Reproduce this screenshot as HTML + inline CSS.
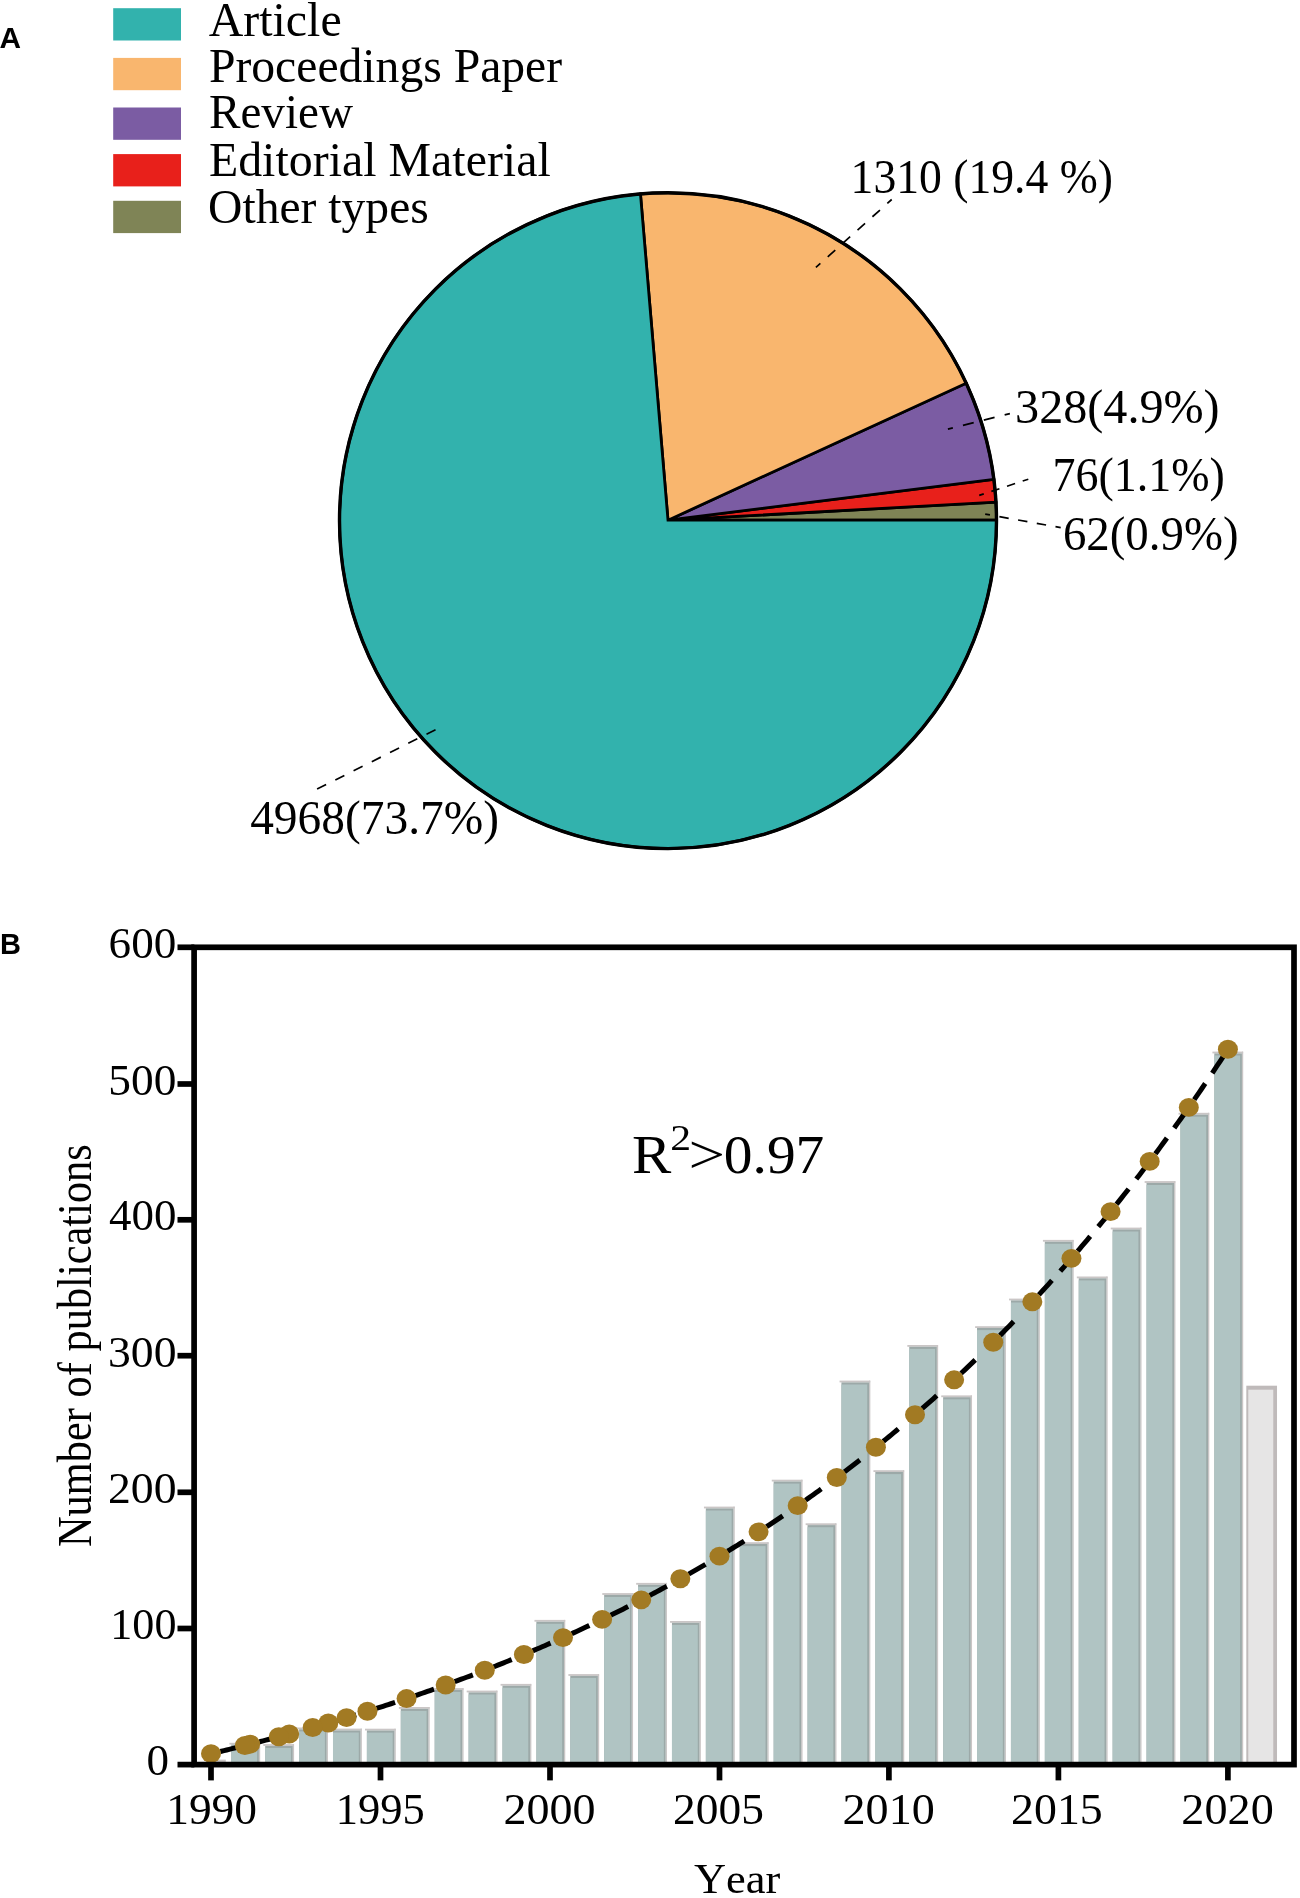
<!DOCTYPE html>
<html><head><meta charset="utf-8"><style>
html,body{margin:0;padding:0;background:#fff;}
body{width:1300px;height:1898px;overflow:hidden;}
svg{display:block;}
text{font-kerning:none;}
svg{will-change:transform;}
.s{font-family:"Liberation Serif",serif;fill:#000;}
.b{font-family:"Liberation Sans",sans-serif;font-weight:bold;fill:#000;}
</style></head><body>
<svg width="1300" height="1898" viewBox="0 0 1300 1898">
<text x="-0.54" y="48.20" class="b" font-size="30" textLength="21.53" lengthAdjust="spacingAndGlyphs">A</text>
<rect x="113.2" y="8.2" width="67.8" height="32.3" fill="#32b2ad"/>
<rect x="113.2" y="57.9" width="67.8" height="32.3" fill="#f9b66e"/>
<rect x="113.2" y="107.5" width="67.8" height="32.3" fill="#7b5ca3"/>
<rect x="113.2" y="154.1" width="67.8" height="32.3" fill="#e8201b"/>
<rect x="113.2" y="200.8" width="67.8" height="32.3" fill="#7f8456"/>
<text x="208.73" y="35.80" class="s" font-size="48.5" textLength="132.93" lengthAdjust="spacingAndGlyphs">Article</text>
<text x="208.93" y="82.00" class="s" font-size="48.5" textLength="353.19" lengthAdjust="spacingAndGlyphs">Proceedings Paper</text>
<text x="208.94" y="128.40" class="s" font-size="48.5" textLength="144.07" lengthAdjust="spacingAndGlyphs">Review</text>
<text x="208.92" y="175.60" class="s" font-size="48.5" textLength="341.84" lengthAdjust="spacingAndGlyphs">Editorial Material</text>
<text x="208.05" y="222.90" class="s" font-size="48.5" textLength="220.77" lengthAdjust="spacingAndGlyphs">Other types</text>
<path d="M668,520.2 L996.50,520.13 A328.5,327.9 0 0 0 995.97,502.11 Z" fill="#7f8456" stroke="#000" stroke-width="2.8" stroke-linejoin="miter"/>
<path d="M668,520.2 L995.97,502.11 A328.5,327.9 0 0 0 993.87,479.32 Z" fill="#e8201b" stroke="#000" stroke-width="2.8" stroke-linejoin="miter"/>
<path d="M668,520.2 L993.87,479.32 A328.5,327.9 0 0 0 966.20,383.16 Z" fill="#7b5ca3" stroke="#000" stroke-width="2.8" stroke-linejoin="miter"/>
<path d="M668,520.2 L966.20,383.16 A328.5,327.9 0 0 0 640.45,193.95 Z" fill="#f9b66e" stroke="#000" stroke-width="2.8" stroke-linejoin="miter"/>
<path d="M668,520.2 L640.45,193.95 A328.5,327.9 0 1 0 996.50,520.13 Z" fill="#32b2ad" stroke="#000" stroke-width="2.8" stroke-linejoin="miter"/>
<ellipse cx="668" cy="520.7" rx="328.5" ry="327.9" fill="none" stroke="#000" stroke-width="3.4"/>
<line x1="815.9" y1="267.4" x2="891.7" y2="199.5" stroke="#000" stroke-width="1.7" stroke-dasharray="10.1 9.9" stroke-dashoffset="4.1"/>
<line x1="947.9" y1="429.1" x2="1009.9" y2="413.6" stroke="#000" stroke-width="1.7" stroke-dasharray="11.1 10.4" stroke-dashoffset="6.0"/>
<line x1="979.2" y1="495.4" x2="1028.3" y2="479.2" stroke="#000" stroke-width="1.7" stroke-dasharray="8.5 8.0" stroke-dashoffset="3.7"/>
<line x1="985.2" y1="514.1" x2="1060.7" y2="527.6" stroke="#000" stroke-width="1.7" stroke-dasharray="9.45 9.55" stroke-dashoffset="4.6"/>
<line x1="317.1" y1="789.1" x2="435.9" y2="729.5" stroke="#000" stroke-width="1.7" stroke-dasharray="10.1 10.3" stroke-dashoffset="0"/>
<text x="850.59" y="193.30" class="s" font-size="48.3" textLength="262.42" lengthAdjust="spacingAndGlyphs">1310 (19.4 %)</text>
<text x="1015.10" y="423.00" class="s" font-size="48.3" textLength="204.52" lengthAdjust="spacingAndGlyphs">328(4.9%)</text>
<text x="1052.47" y="490.80" class="s" font-size="48.3" textLength="172.45" lengthAdjust="spacingAndGlyphs">76(1.1%)</text>
<text x="1062.89" y="549.80" class="s" font-size="48.3" textLength="175.67" lengthAdjust="spacingAndGlyphs">62(0.9%)</text>
<text x="250.17" y="833.80" class="s" font-size="48.3" textLength="248.91" lengthAdjust="spacingAndGlyphs">4968(73.7%)</text>
<text x="0.06" y="953.80" class="b" font-size="30" textLength="20.96" lengthAdjust="spacingAndGlyphs">B</text>
<rect x="214.00" y="1759.60" width="11.8" height="5.00" fill="#cac6c6"/>
<rect x="229.40" y="1742.80" width="30.7" height="1.8" fill="#cac6c6"/>
<rect x="258.90" y="1742.80" width="1.3" height="21.80" fill="#cac6c6"/>
<rect x="231.30" y="1744.60" width="27.6" height="20.00" fill="#9ca9a8"/>
<rect x="231.30" y="1746.70" width="25.8" height="17.90" fill="#b0c4c3"/>
<rect x="263.29" y="1744.10" width="30.7" height="1.8" fill="#cac6c6"/>
<rect x="292.79" y="1744.10" width="1.3" height="20.50" fill="#cac6c6"/>
<rect x="265.19" y="1745.90" width="27.6" height="18.70" fill="#9ca9a8"/>
<rect x="265.19" y="1748.00" width="25.8" height="16.60" fill="#b0c4c3"/>
<rect x="297.19" y="1727.50" width="30.7" height="1.8" fill="#cac6c6"/>
<rect x="326.69" y="1727.50" width="1.3" height="37.10" fill="#cac6c6"/>
<rect x="299.09" y="1729.30" width="27.6" height="35.30" fill="#9ca9a8"/>
<rect x="299.09" y="1731.40" width="25.8" height="33.20" fill="#b0c4c3"/>
<rect x="331.09" y="1728.60" width="30.7" height="1.8" fill="#cac6c6"/>
<rect x="360.59" y="1728.60" width="1.3" height="36.00" fill="#cac6c6"/>
<rect x="332.99" y="1730.40" width="27.6" height="34.20" fill="#9ca9a8"/>
<rect x="332.99" y="1732.50" width="25.8" height="32.10" fill="#b0c4c3"/>
<rect x="364.99" y="1728.70" width="30.7" height="1.8" fill="#cac6c6"/>
<rect x="394.49" y="1728.70" width="1.3" height="35.90" fill="#cac6c6"/>
<rect x="366.88" y="1730.50" width="27.6" height="34.10" fill="#9ca9a8"/>
<rect x="366.88" y="1732.60" width="25.8" height="32.00" fill="#b0c4c3"/>
<rect x="398.88" y="1707.00" width="30.7" height="1.8" fill="#cac6c6"/>
<rect x="428.38" y="1707.00" width="1.3" height="57.60" fill="#cac6c6"/>
<rect x="400.78" y="1708.80" width="27.6" height="55.80" fill="#9ca9a8"/>
<rect x="400.78" y="1710.90" width="25.8" height="53.70" fill="#b0c4c3"/>
<rect x="432.78" y="1688.10" width="30.7" height="1.8" fill="#cac6c6"/>
<rect x="462.28" y="1688.10" width="1.3" height="76.50" fill="#cac6c6"/>
<rect x="434.68" y="1689.90" width="27.6" height="74.70" fill="#9ca9a8"/>
<rect x="434.68" y="1692.00" width="25.8" height="72.60" fill="#b0c4c3"/>
<rect x="466.68" y="1690.60" width="30.7" height="1.8" fill="#cac6c6"/>
<rect x="496.18" y="1690.60" width="1.3" height="74.00" fill="#cac6c6"/>
<rect x="468.58" y="1692.40" width="27.6" height="72.20" fill="#9ca9a8"/>
<rect x="468.58" y="1694.50" width="25.8" height="70.10" fill="#b0c4c3"/>
<rect x="500.57" y="1683.90" width="30.7" height="1.8" fill="#cac6c6"/>
<rect x="530.07" y="1683.90" width="1.3" height="80.70" fill="#cac6c6"/>
<rect x="502.47" y="1685.70" width="27.6" height="78.90" fill="#9ca9a8"/>
<rect x="502.47" y="1687.80" width="25.8" height="76.80" fill="#b0c4c3"/>
<rect x="534.47" y="1619.90" width="30.7" height="1.8" fill="#cac6c6"/>
<rect x="563.97" y="1619.90" width="1.3" height="144.70" fill="#cac6c6"/>
<rect x="536.37" y="1621.70" width="27.6" height="142.90" fill="#9ca9a8"/>
<rect x="536.37" y="1623.80" width="25.8" height="140.80" fill="#b0c4c3"/>
<rect x="568.37" y="1674.10" width="30.7" height="1.8" fill="#cac6c6"/>
<rect x="597.87" y="1674.10" width="1.3" height="90.50" fill="#cac6c6"/>
<rect x="570.27" y="1675.90" width="27.6" height="88.70" fill="#9ca9a8"/>
<rect x="570.27" y="1678.00" width="25.8" height="86.60" fill="#b0c4c3"/>
<rect x="602.26" y="1593.10" width="30.7" height="1.8" fill="#cac6c6"/>
<rect x="631.76" y="1593.10" width="1.3" height="171.50" fill="#cac6c6"/>
<rect x="604.16" y="1594.90" width="27.6" height="169.70" fill="#9ca9a8"/>
<rect x="604.16" y="1597.00" width="25.8" height="167.60" fill="#b0c4c3"/>
<rect x="636.16" y="1582.90" width="30.7" height="1.8" fill="#cac6c6"/>
<rect x="665.66" y="1582.90" width="1.3" height="181.70" fill="#cac6c6"/>
<rect x="638.06" y="1584.70" width="27.6" height="179.90" fill="#9ca9a8"/>
<rect x="638.06" y="1586.80" width="25.8" height="177.80" fill="#b0c4c3"/>
<rect x="670.06" y="1621.00" width="30.7" height="1.8" fill="#cac6c6"/>
<rect x="699.56" y="1621.00" width="1.3" height="143.60" fill="#cac6c6"/>
<rect x="671.96" y="1622.80" width="27.6" height="141.80" fill="#9ca9a8"/>
<rect x="671.96" y="1624.90" width="25.8" height="139.70" fill="#b0c4c3"/>
<rect x="703.95" y="1506.60" width="30.7" height="1.8" fill="#cac6c6"/>
<rect x="733.45" y="1506.60" width="1.3" height="258.00" fill="#cac6c6"/>
<rect x="705.85" y="1508.40" width="27.6" height="256.20" fill="#9ca9a8"/>
<rect x="705.85" y="1510.50" width="25.8" height="254.10" fill="#b0c4c3"/>
<rect x="737.85" y="1542.20" width="30.7" height="1.8" fill="#cac6c6"/>
<rect x="767.35" y="1542.20" width="1.3" height="222.40" fill="#cac6c6"/>
<rect x="739.75" y="1544.00" width="27.6" height="220.60" fill="#9ca9a8"/>
<rect x="739.75" y="1546.10" width="25.8" height="218.50" fill="#b0c4c3"/>
<rect x="771.75" y="1479.70" width="30.7" height="1.8" fill="#cac6c6"/>
<rect x="801.25" y="1479.70" width="1.3" height="284.90" fill="#cac6c6"/>
<rect x="773.65" y="1481.50" width="27.6" height="283.10" fill="#9ca9a8"/>
<rect x="773.65" y="1483.60" width="25.8" height="281.00" fill="#b0c4c3"/>
<rect x="805.65" y="1523.30" width="30.7" height="1.8" fill="#cac6c6"/>
<rect x="835.15" y="1523.30" width="1.3" height="241.30" fill="#cac6c6"/>
<rect x="807.55" y="1525.10" width="27.6" height="239.50" fill="#9ca9a8"/>
<rect x="807.55" y="1527.20" width="25.8" height="237.40" fill="#b0c4c3"/>
<rect x="839.54" y="1380.60" width="30.7" height="1.8" fill="#cac6c6"/>
<rect x="869.04" y="1380.60" width="1.3" height="384.00" fill="#cac6c6"/>
<rect x="841.44" y="1382.40" width="27.6" height="382.20" fill="#9ca9a8"/>
<rect x="841.44" y="1384.50" width="25.8" height="380.10" fill="#b0c4c3"/>
<rect x="873.44" y="1470.20" width="30.7" height="1.8" fill="#cac6c6"/>
<rect x="902.94" y="1470.20" width="1.3" height="294.40" fill="#cac6c6"/>
<rect x="875.34" y="1472.00" width="27.6" height="292.60" fill="#9ca9a8"/>
<rect x="875.34" y="1474.10" width="25.8" height="290.50" fill="#b0c4c3"/>
<rect x="907.34" y="1345.00" width="30.7" height="1.8" fill="#cac6c6"/>
<rect x="936.84" y="1345.00" width="1.3" height="419.60" fill="#cac6c6"/>
<rect x="909.24" y="1346.80" width="27.6" height="417.80" fill="#9ca9a8"/>
<rect x="909.24" y="1348.90" width="25.8" height="415.70" fill="#b0c4c3"/>
<rect x="941.23" y="1395.40" width="30.7" height="1.8" fill="#cac6c6"/>
<rect x="970.73" y="1395.40" width="1.3" height="369.20" fill="#cac6c6"/>
<rect x="943.13" y="1397.20" width="27.6" height="367.40" fill="#9ca9a8"/>
<rect x="943.13" y="1399.30" width="25.8" height="365.30" fill="#b0c4c3"/>
<rect x="975.13" y="1326.20" width="30.7" height="1.8" fill="#cac6c6"/>
<rect x="1004.63" y="1326.20" width="1.3" height="438.40" fill="#cac6c6"/>
<rect x="977.03" y="1328.00" width="27.6" height="436.60" fill="#9ca9a8"/>
<rect x="977.03" y="1330.10" width="25.8" height="434.50" fill="#b0c4c3"/>
<rect x="1009.03" y="1298.60" width="30.7" height="1.8" fill="#cac6c6"/>
<rect x="1038.53" y="1298.60" width="1.3" height="466.00" fill="#cac6c6"/>
<rect x="1010.93" y="1300.40" width="27.6" height="464.20" fill="#9ca9a8"/>
<rect x="1010.93" y="1302.50" width="25.8" height="462.10" fill="#b0c4c3"/>
<rect x="1042.92" y="1239.90" width="30.7" height="1.8" fill="#cac6c6"/>
<rect x="1072.42" y="1239.90" width="1.3" height="524.70" fill="#cac6c6"/>
<rect x="1044.83" y="1241.70" width="27.6" height="522.90" fill="#9ca9a8"/>
<rect x="1044.83" y="1243.80" width="25.8" height="520.80" fill="#b0c4c3"/>
<rect x="1076.82" y="1276.50" width="30.7" height="1.8" fill="#cac6c6"/>
<rect x="1106.32" y="1276.50" width="1.3" height="488.10" fill="#cac6c6"/>
<rect x="1078.72" y="1278.30" width="27.6" height="486.30" fill="#9ca9a8"/>
<rect x="1078.72" y="1280.40" width="25.8" height="484.20" fill="#b0c4c3"/>
<rect x="1110.72" y="1227.60" width="30.7" height="1.8" fill="#cac6c6"/>
<rect x="1140.22" y="1227.60" width="1.3" height="537.00" fill="#cac6c6"/>
<rect x="1112.62" y="1229.40" width="27.6" height="535.20" fill="#9ca9a8"/>
<rect x="1112.62" y="1231.50" width="25.8" height="533.10" fill="#b0c4c3"/>
<rect x="1144.62" y="1181.10" width="30.7" height="1.8" fill="#cac6c6"/>
<rect x="1174.12" y="1181.10" width="1.3" height="583.50" fill="#cac6c6"/>
<rect x="1146.52" y="1182.90" width="27.6" height="581.70" fill="#9ca9a8"/>
<rect x="1146.52" y="1185.00" width="25.8" height="579.60" fill="#b0c4c3"/>
<rect x="1178.51" y="1112.80" width="30.7" height="1.8" fill="#cac6c6"/>
<rect x="1208.01" y="1112.80" width="1.3" height="651.80" fill="#cac6c6"/>
<rect x="1180.41" y="1114.60" width="27.6" height="650.00" fill="#9ca9a8"/>
<rect x="1180.41" y="1116.70" width="25.8" height="647.90" fill="#b0c4c3"/>
<rect x="1212.41" y="1051.60" width="30.7" height="1.8" fill="#cac6c6"/>
<rect x="1241.91" y="1051.60" width="1.3" height="713.00" fill="#cac6c6"/>
<rect x="1214.31" y="1053.40" width="27.6" height="711.20" fill="#9ca9a8"/>
<rect x="1214.31" y="1055.50" width="25.8" height="709.10" fill="#b0c4c3"/>
<rect x="1246.31" y="1385.70" width="30.7" height="378.90" fill="#bfbaba"/>
<rect x="1248.26" y="1389.70" width="25" height="374.90" fill="#e6e5e5"/>
<path d="M211.00,1753.66 L213.61,1753.05 L216.21,1752.44 L218.82,1751.82 L221.43,1751.20 L224.04,1750.58 L226.64,1749.95 L229.25,1749.32 L231.86,1748.69 L234.47,1748.06 L237.07,1747.42 L239.68,1746.78 L242.29,1746.13 L244.90,1745.48 L247.50,1744.83 L250.11,1744.18" fill="none" stroke="#000" stroke-width="5.0" stroke-dasharray="19.5 200" stroke-dashoffset="-9.5"/>
<path d="M250.11,1744.18 L252.72,1743.52 L255.33,1742.86 L257.93,1742.20 L260.54,1741.53 L263.15,1740.86 L265.76,1740.19 L268.36,1739.52 L270.97,1738.84 L273.58,1738.15 L276.19,1737.47 L278.79,1736.78 L281.40,1736.09 L284.01,1735.39 L286.62,1734.69 L289.22,1733.99" fill="none" stroke="#000" stroke-width="5.0" stroke-dasharray="19.5 200" stroke-dashoffset="-9.5"/>
<path d="M328.34,1723.03 L330.94,1722.27 L333.55,1721.50 L336.16,1720.74 L338.77,1719.97 L341.37,1719.19 L343.98,1718.42 L346.59,1717.63 L349.20,1716.85 L351.80,1716.06 L354.41,1715.27 L357.02,1714.47 L359.63,1713.67 L362.23,1712.86 L364.84,1712.06 L367.45,1711.24" fill="none" stroke="#000" stroke-width="5.0" stroke-dasharray="19.5 200" stroke-dashoffset="-9.5"/>
<path d="M367.45,1711.24 L370.06,1710.43 L372.66,1709.61 L375.27,1708.78 L377.88,1707.95 L380.48,1707.12 L383.09,1706.28 L385.70,1705.44 L388.31,1704.60 L390.91,1703.75 L393.52,1702.90 L396.13,1702.04 L398.74,1701.18 L401.34,1700.32 L403.95,1699.45 L406.56,1698.57" fill="none" stroke="#000" stroke-width="5.0" stroke-dasharray="19.5 200" stroke-dashoffset="-9.5"/>
<path d="M406.56,1698.57 L409.17,1697.69 L411.77,1696.81 L414.38,1695.93 L416.99,1695.04 L419.60,1694.14 L422.20,1693.24 L424.81,1692.34 L427.42,1691.43 L430.03,1690.52 L432.63,1689.60 L435.24,1688.68 L437.85,1687.75 L440.46,1686.82 L443.06,1685.89 L445.67,1684.95" fill="none" stroke="#000" stroke-width="5.0" stroke-dasharray="19.5 200" stroke-dashoffset="-9.5"/>
<path d="M445.67,1684.95 L448.28,1684.01 L450.89,1683.06 L453.49,1682.10 L456.10,1681.15 L458.71,1680.18 L461.32,1679.22 L463.92,1678.25 L466.53,1677.27 L469.14,1676.29 L471.75,1675.30 L474.35,1674.31 L476.96,1673.32 L479.57,1672.32 L482.18,1671.31 L484.78,1670.30" fill="none" stroke="#000" stroke-width="5.0" stroke-dasharray="19.5 200" stroke-dashoffset="-9.5"/>
<path d="M484.78,1670.30 L487.39,1669.29 L490.00,1668.27 L492.61,1667.24 L495.21,1666.21 L497.82,1665.18 L500.43,1664.14 L503.04,1663.10 L505.64,1662.05 L508.25,1660.99 L510.86,1659.93 L513.47,1658.87 L516.07,1657.80 L518.68,1656.72 L521.29,1655.64 L523.90,1654.55" fill="none" stroke="#000" stroke-width="5.0" stroke-dasharray="19.5 200" stroke-dashoffset="-9.5"/>
<path d="M523.90,1654.55 L526.50,1653.46 L529.11,1652.37 L531.72,1651.26 L534.33,1650.16 L536.93,1649.05 L539.54,1647.93 L542.15,1646.80 L544.76,1645.68 L547.36,1644.54 L549.97,1643.40 L552.58,1642.26 L555.18,1641.11 L557.79,1639.95 L560.40,1638.79 L563.01,1637.62" fill="none" stroke="#000" stroke-width="5.0" stroke-dasharray="19.5 200" stroke-dashoffset="-9.5"/>
<path d="M563.01,1637.62 L565.61,1636.45 L568.22,1635.27 L570.83,1634.08 L573.44,1632.89 L576.04,1631.70 L578.65,1630.50 L581.26,1629.29 L583.87,1628.08 L586.47,1626.86 L589.08,1625.63 L591.69,1624.40 L594.30,1623.16 L596.90,1621.92 L599.51,1620.67 L602.12,1619.41" fill="none" stroke="#000" stroke-width="5.0" stroke-dasharray="19.5 200" stroke-dashoffset="-9.5"/>
<path d="M602.12,1619.41 L604.73,1618.15 L607.33,1616.89 L609.94,1615.61 L612.55,1614.33 L615.16,1613.05 L617.76,1611.75 L620.37,1610.46 L622.98,1609.15 L625.59,1607.84 L628.19,1606.52 L630.80,1605.20 L633.41,1603.87 L636.02,1602.53 L638.62,1601.19 L641.23,1599.84" fill="none" stroke="#000" stroke-width="5.0" stroke-dasharray="19.5 200" stroke-dashoffset="-9.5"/>
<path d="M641.23,1599.84 L643.84,1598.48 L646.45,1597.12 L649.05,1595.75 L651.66,1594.38 L654.27,1592.99 L656.88,1591.60 L659.48,1590.21 L662.09,1588.80 L664.70,1587.40 L667.31,1585.98 L669.91,1584.56 L672.52,1583.13 L675.13,1581.69 L677.74,1580.24 L680.34,1578.79" fill="none" stroke="#000" stroke-width="5.0" stroke-dasharray="19.5 200" stroke-dashoffset="-9.5"/>
<path d="M680.34,1578.79 L682.95,1577.33 L685.56,1575.87 L688.17,1574.40 L690.77,1572.92 L693.38,1571.43 L695.99,1569.94 L698.60,1568.44 L701.20,1566.93 L703.81,1565.41 L706.42,1563.89 L709.03,1562.36 L711.63,1560.82 L714.24,1559.28 L716.85,1557.72 L719.45,1556.16" fill="none" stroke="#000" stroke-width="5.0" stroke-dasharray="19.5 200" stroke-dashoffset="-9.5"/>
<path d="M719.45,1556.16 L722.06,1554.60 L724.67,1553.02 L727.28,1551.44 L729.88,1549.85 L732.49,1548.25 L735.10,1546.64 L737.71,1545.03 L740.31,1543.41 L742.92,1541.78 L745.53,1540.14 L748.14,1538.49 L750.74,1536.84 L753.35,1535.18 L755.96,1533.51 L758.57,1531.83" fill="none" stroke="#000" stroke-width="5.0" stroke-dasharray="19.5 200" stroke-dashoffset="-9.5"/>
<path d="M758.57,1531.83 L761.17,1530.15 L763.78,1528.45 L766.39,1526.75 L769.00,1525.04 L771.60,1523.32 L774.21,1521.59 L776.82,1519.86 L779.43,1518.12 L782.03,1516.36 L784.64,1514.60 L787.25,1512.83 L789.86,1511.06 L792.46,1509.27 L795.07,1507.48 L797.68,1505.67" fill="none" stroke="#000" stroke-width="5.0" stroke-dasharray="19.5 200" stroke-dashoffset="-9.5"/>
<path d="M797.68,1505.67 L800.29,1503.86 L802.89,1502.04 L805.50,1500.21 L808.11,1498.37 L810.72,1496.52 L813.32,1494.66 L815.93,1492.80 L818.54,1490.92 L821.15,1489.04 L823.75,1487.15 L826.36,1485.24 L828.97,1483.33 L831.58,1481.41 L834.18,1479.48 L836.79,1477.54" fill="none" stroke="#000" stroke-width="5.0" stroke-dasharray="19.5 200" stroke-dashoffset="-9.5"/>
<path d="M836.79,1477.54 L839.40,1475.59 L842.01,1473.64 L844.61,1471.67 L847.22,1469.69 L849.83,1467.71 L852.44,1465.71 L855.04,1463.70 L857.65,1461.69 L860.26,1459.66 L862.87,1457.63 L865.47,1455.58 L868.08,1453.53 L870.69,1451.46 L873.30,1449.39 L875.90,1447.30" fill="none" stroke="#000" stroke-width="5.0" stroke-dasharray="19.5 200" stroke-dashoffset="-9.5"/>
<path d="M875.90,1447.30 L878.51,1445.21 L881.12,1443.10 L883.73,1440.98 L886.33,1438.86 L888.94,1436.72 L891.55,1434.58 L894.15,1432.42 L896.76,1430.25 L899.37,1428.07 L901.98,1425.89 L904.58,1423.69 L907.19,1421.48 L909.80,1419.26 L912.41,1417.03 L915.01,1414.78" fill="none" stroke="#000" stroke-width="5.0" stroke-dasharray="19.5 200" stroke-dashoffset="-9.5"/>
<path d="M915.01,1414.78 L917.62,1412.53 L920.23,1410.27 L922.84,1407.99 L925.44,1405.71 L928.05,1403.41 L930.66,1401.10 L933.27,1398.78 L935.87,1396.45 L938.48,1394.11 L941.09,1391.76 L943.70,1389.39 L946.30,1387.02 L948.91,1384.63 L951.52,1382.23 L954.13,1379.82" fill="none" stroke="#000" stroke-width="5.0" stroke-dasharray="19.5 200" stroke-dashoffset="-9.5"/>
<path d="M954.13,1379.82 L956.73,1377.40 L959.34,1374.97 L961.95,1372.52 L964.56,1370.06 L967.16,1367.59 L969.77,1365.11 L972.38,1362.62 L974.99,1360.11 L977.59,1357.59 L980.20,1355.06 L982.81,1352.52 L985.42,1349.97 L988.02,1347.40 L990.63,1344.82 L993.24,1342.23" fill="none" stroke="#000" stroke-width="5.0" stroke-dasharray="19.5 200" stroke-dashoffset="-9.5"/>
<path d="M993.24,1342.23 L995.85,1339.63 L998.45,1337.01 L1001.06,1334.38 L1003.67,1331.74 L1006.28,1329.08 L1008.88,1326.41 L1011.49,1323.73 L1014.10,1321.04 L1016.71,1318.33 L1019.31,1315.61 L1021.92,1312.88 L1024.53,1310.13 L1027.14,1307.37 L1029.74,1304.60 L1032.35,1301.81" fill="none" stroke="#000" stroke-width="5.0" stroke-dasharray="19.5 200" stroke-dashoffset="-9.5"/>
<path d="M1032.35,1301.81 L1034.96,1299.01 L1037.57,1296.20 L1040.17,1293.37 L1042.78,1290.53 L1045.39,1287.68 L1048.00,1284.81 L1050.60,1281.92 L1053.21,1279.03 L1055.82,1276.12 L1058.43,1273.19 L1061.03,1270.25 L1063.64,1267.30 L1066.25,1264.33 L1068.85,1261.35 L1071.46,1258.36" fill="none" stroke="#000" stroke-width="5.0" stroke-dasharray="19.5 12.5" stroke-dashoffset="-9.5"/>
<path d="M1071.46,1258.36 L1074.07,1255.35 L1076.68,1252.32 L1079.28,1249.28 L1081.89,1246.23 L1084.50,1243.16 L1087.11,1240.07 L1089.71,1236.97 L1092.32,1233.86 L1094.93,1230.73 L1097.54,1227.58 L1100.14,1224.42 L1102.75,1221.25 L1105.36,1218.06 L1107.97,1214.85 L1110.57,1211.63" fill="none" stroke="#000" stroke-width="5.0" stroke-dasharray="19.5 12.5" stroke-dashoffset="-9.5"/>
<path d="M1110.57,1211.63 L1113.18,1208.39 L1115.79,1205.14 L1118.40,1201.87 L1121.00,1198.59 L1123.61,1195.29 L1126.22,1191.97 L1128.83,1188.64 L1131.43,1185.29 L1134.04,1181.93 L1136.65,1178.55 L1139.26,1175.15 L1141.86,1171.73 L1144.47,1168.30 L1147.08,1164.86 L1149.69,1161.39" fill="none" stroke="#000" stroke-width="5.0" stroke-dasharray="19.5 12.5" stroke-dashoffset="-9.5"/>
<path d="M1149.69,1161.39 L1152.29,1157.91 L1154.90,1154.42 L1157.51,1150.90 L1160.12,1147.37 L1162.72,1143.82 L1165.33,1140.26 L1167.94,1136.67 L1170.55,1133.07 L1173.15,1129.46 L1175.76,1125.82 L1178.37,1122.17 L1180.98,1118.50 L1183.58,1114.81 L1186.19,1111.10 L1188.80,1107.38" fill="none" stroke="#000" stroke-width="5.0" stroke-dasharray="19.5 12.5" stroke-dashoffset="-9.5"/>
<path d="M1188.80,1107.38 L1191.41,1103.64 L1194.01,1099.88 L1196.62,1096.10 L1199.23,1092.30 L1201.84,1088.48 L1204.44,1084.65 L1207.05,1080.80 L1209.66,1076.93 L1212.27,1073.04 L1214.87,1069.13 L1217.48,1065.20 L1220.09,1061.26 L1222.70,1057.29 L1225.30,1053.31 L1227.91,1049.30" fill="none" stroke="#000" stroke-width="5.0" stroke-dasharray="19.5 12.5" stroke-dashoffset="-9.5"/>
<ellipse cx="211.00" cy="1753.66" rx="10" ry="9.45" fill="#a27a23"/>
<ellipse cx="250.11" cy="1744.18" rx="10" ry="9.45" fill="#a27a23"/>
<ellipse cx="289.22" cy="1733.99" rx="10" ry="9.45" fill="#a27a23"/>
<ellipse cx="328.34" cy="1723.03" rx="10" ry="9.45" fill="#a27a23"/>
<ellipse cx="367.45" cy="1711.24" rx="10" ry="9.45" fill="#a27a23"/>
<ellipse cx="406.56" cy="1698.57" rx="10" ry="9.45" fill="#a27a23"/>
<ellipse cx="445.67" cy="1684.95" rx="10" ry="9.45" fill="#a27a23"/>
<ellipse cx="484.78" cy="1670.30" rx="10" ry="9.45" fill="#a27a23"/>
<ellipse cx="523.90" cy="1654.55" rx="10" ry="9.45" fill="#a27a23"/>
<ellipse cx="563.01" cy="1637.62" rx="10" ry="9.45" fill="#a27a23"/>
<ellipse cx="602.12" cy="1619.41" rx="10" ry="9.45" fill="#a27a23"/>
<ellipse cx="641.23" cy="1599.84" rx="10" ry="9.45" fill="#a27a23"/>
<ellipse cx="680.34" cy="1578.79" rx="10" ry="9.45" fill="#a27a23"/>
<ellipse cx="719.45" cy="1556.16" rx="10" ry="9.45" fill="#a27a23"/>
<ellipse cx="758.57" cy="1531.83" rx="10" ry="9.45" fill="#a27a23"/>
<ellipse cx="797.68" cy="1505.67" rx="10" ry="9.45" fill="#a27a23"/>
<ellipse cx="836.79" cy="1477.54" rx="10" ry="9.45" fill="#a27a23"/>
<ellipse cx="875.90" cy="1447.30" rx="10" ry="9.45" fill="#a27a23"/>
<ellipse cx="915.01" cy="1414.78" rx="10" ry="9.45" fill="#a27a23"/>
<ellipse cx="954.13" cy="1379.82" rx="10" ry="9.45" fill="#a27a23"/>
<ellipse cx="993.24" cy="1342.23" rx="10" ry="9.45" fill="#a27a23"/>
<ellipse cx="1032.35" cy="1301.81" rx="10" ry="9.45" fill="#a27a23"/>
<ellipse cx="1071.46" cy="1258.36" rx="10" ry="9.45" fill="#a27a23"/>
<ellipse cx="1110.57" cy="1211.63" rx="10" ry="9.45" fill="#a27a23"/>
<ellipse cx="1149.69" cy="1161.39" rx="10" ry="9.45" fill="#a27a23"/>
<ellipse cx="1188.80" cy="1107.38" rx="10" ry="9.45" fill="#a27a23"/>
<ellipse cx="1227.91" cy="1049.30" rx="10" ry="9.45" fill="#a27a23"/>
<ellipse cx="244.90" cy="1745.48" rx="10" ry="9.45" fill="#a27a23"/>
<ellipse cx="278.79" cy="1736.78" rx="10" ry="9.45" fill="#a27a23"/>
<ellipse cx="312.69" cy="1727.51" rx="10" ry="9.45" fill="#a27a23"/>
<ellipse cx="346.59" cy="1717.63" rx="10" ry="9.45" fill="#a27a23"/>
<rect x="194.1" y="947.3" width="1099.90" height="817.30" fill="none" stroke="#000" stroke-width="5.7"/>
<line x1="177.5" y1="1764.6" x2="194.35" y2="1764.6" stroke="#000" stroke-width="5.7"/>
<line x1="177.5" y1="1628.5" x2="194.35" y2="1628.5" stroke="#000" stroke-width="5.7"/>
<line x1="177.5" y1="1492.3" x2="194.35" y2="1492.3" stroke="#000" stroke-width="5.7"/>
<line x1="177.5" y1="1355.7" x2="194.35" y2="1355.7" stroke="#000" stroke-width="5.7"/>
<line x1="177.5" y1="1219.8" x2="194.35" y2="1219.8" stroke="#000" stroke-width="5.7"/>
<line x1="177.5" y1="1084.0" x2="194.35" y2="1084.0" stroke="#000" stroke-width="5.7"/>
<line x1="177.5" y1="947.3" x2="194.35" y2="947.3" stroke="#000" stroke-width="5.7"/>
<line x1="211.0" y1="1764.6" x2="211.0" y2="1780.4" stroke="#000" stroke-width="5.7"/>
<line x1="380.5" y1="1764.6" x2="380.5" y2="1780.4" stroke="#000" stroke-width="5.7"/>
<line x1="550.0" y1="1764.6" x2="550.0" y2="1780.4" stroke="#000" stroke-width="5.7"/>
<line x1="719.5" y1="1764.6" x2="719.5" y2="1780.4" stroke="#000" stroke-width="5.7"/>
<line x1="888.9" y1="1764.6" x2="888.9" y2="1780.4" stroke="#000" stroke-width="5.7"/>
<line x1="1058.4" y1="1764.6" x2="1058.4" y2="1780.4" stroke="#000" stroke-width="5.7"/>
<line x1="1227.9" y1="1764.6" x2="1227.9" y2="1780.4" stroke="#000" stroke-width="5.7"/>
<text x="146.58" y="1775.40" class="s" font-size="43.5" textLength="22.53" lengthAdjust="spacingAndGlyphs">0</text>
<text x="110.32" y="1639.00" class="s" font-size="43.5" textLength="66.16" lengthAdjust="spacingAndGlyphs">100</text>
<text x="107.99" y="1502.80" class="s" font-size="43.5" textLength="68.55" lengthAdjust="spacingAndGlyphs">200</text>
<text x="108.01" y="1366.90" class="s" font-size="43.5" textLength="68.53" lengthAdjust="spacingAndGlyphs">300</text>
<text x="109.12" y="1230.00" class="s" font-size="43.5" textLength="67.39" lengthAdjust="spacingAndGlyphs">400</text>
<text x="108.37" y="1094.70" class="s" font-size="43.5" textLength="67.96" lengthAdjust="spacingAndGlyphs">500</text>
<text x="108.56" y="958.20" class="s" font-size="43.5" textLength="67.76" lengthAdjust="spacingAndGlyphs">600</text>
<text x="166.21" y="1823.70" class="s" font-size="43.5" textLength="90.82" lengthAdjust="spacingAndGlyphs">1990</text>
<text x="335.79" y="1823.70" class="s" font-size="43.5" textLength="88.95" lengthAdjust="spacingAndGlyphs">1995</text>
<text x="503.48" y="1823.70" class="s" font-size="43.5" textLength="92.08" lengthAdjust="spacingAndGlyphs">2000</text>
<text x="673.11" y="1823.70" class="s" font-size="43.5" textLength="90.77" lengthAdjust="spacingAndGlyphs">2005</text>
<text x="842.57" y="1823.70" class="s" font-size="43.5" textLength="92.18" lengthAdjust="spacingAndGlyphs">2010</text>
<text x="1011.08" y="1823.70" class="s" font-size="43.5" textLength="91.71" lengthAdjust="spacingAndGlyphs">2015</text>
<text x="1181.37" y="1823.70" class="s" font-size="43.5" textLength="92.39" lengthAdjust="spacingAndGlyphs">2020</text>
<text x="693.90" y="1893.40" class="s" font-size="42.6" textLength="86.29" lengthAdjust="spacingAndGlyphs">Year</text>
<g transform="translate(91,0) rotate(-90)"><text x="-1547.02" y="0.00" class="s" font-size="47.5" textLength="402.85" lengthAdjust="spacingAndGlyphs">Number of publications</text></g>
<text x="632.00" y="1172.80" class="s" font-size="55.5" textLength="39.28" lengthAdjust="spacingAndGlyphs">R</text>
<text x="670.27" y="1150.40" class="s" font-size="36.8" textLength="20.83" lengthAdjust="spacingAndGlyphs">2</text>
<text x="688.60" y="1172.80" class="s" font-size="55.5" textLength="36.60" lengthAdjust="spacingAndGlyphs">&gt;</text>
<text x="723.81" y="1172.80" class="s" font-size="55.5" textLength="100.54" lengthAdjust="spacingAndGlyphs">0.97</text>
</svg>
</body></html>
